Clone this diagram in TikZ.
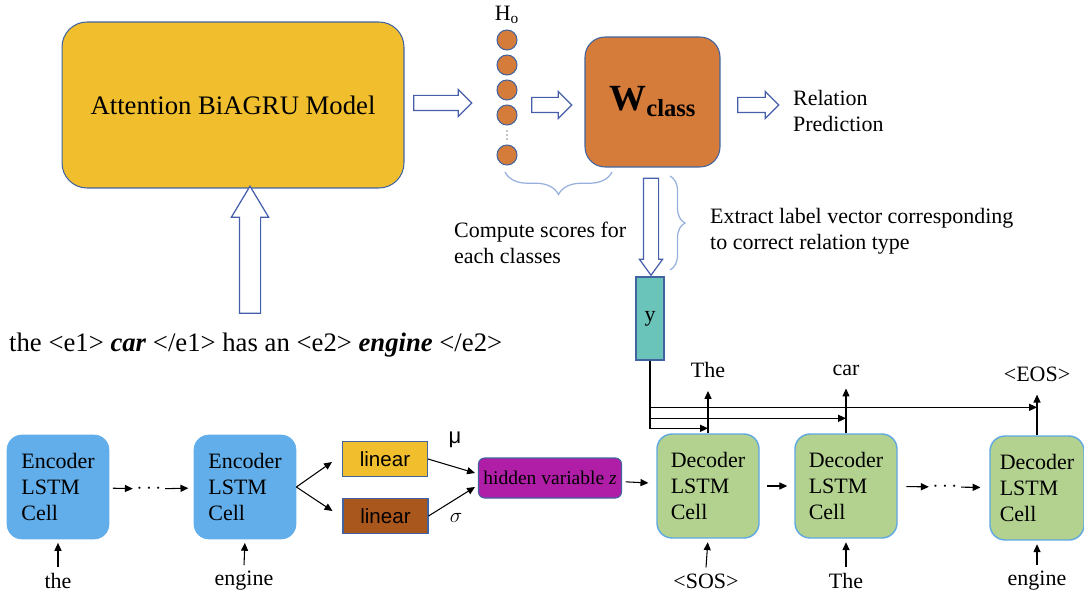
\documentclass[tikz,border=0pt]{standalone}
\usepackage{fontspec}
\setmainfont{Liberation Serif}
\newfontfamily\arialfont{Liberation Sans}
\usetikzlibrary{shapes.arrows, arrows.meta, positioning, calc, decorations.pathreplacing}

\definecolor{attyellow}{RGB}{241,191,46}
\definecolor{outlineblue}{RGB}{65,100,160}
\definecolor{arrline}{RGB}{70,95,170}
\definecolor{wcorange}{RGB}{214,124,59}
\definecolor{yteal}{RGB}{107,196,186}
\definecolor{encblue}{RGB}{98,174,234}
\definecolor{decgreen}{RGB}{179,209,143}
\definecolor{decline}{RGB}{95,168,225}
\definecolor{linbrown}{RGB}{170,87,30}
\definecolor{hidpurple}{RGB}{176,30,168}
\definecolor{bracecol}{RGB}{150,175,220}

\tikzset{
  midtext/.style={font=\fontsize{12.5}{14.8}\selectfont},
  bigtext/.style={font=\fontsize{15.2}{18}\selectfont},
  cellbox/.style={midtext, rounded corners=0.3cm, minimum width=2.04cm, minimum height=2.08cm, align=left},
  encbox/.style={cellbox, fill=encblue, draw=encblue},
  decbox/.style={cellbox, fill=decgreen, draw=decline, line width=0.8pt},
  linbox/.style={draw=outlineblue, line width=0.6pt, minimum width=1.7cm, minimum height=0.7cm, font=\arialfont\fontsize{11.7}{14}\selectfont},
  hcirc/.style={circle, fill=wcorange, draw=outlineblue, line width=0.6pt, minimum size=0.4cm, inner sep=0pt},
  hollowarr/.style={single arrow, draw=arrline, fill=white, line width=0.7pt, inner sep=0pt, minimum width=0pt},
  thinarr/.style={-{Triangle[length=4.5pt,width=4pt]}, line width=0.6pt},
  bracedraw/.style={draw=bracecol, line width=0.7pt, decorate}
}

\begin{document}
\begin{tikzpicture}[x=0.02cm, y=-0.02cm]
\useasboundingbox (0,0) rectangle (1084,601);

% upper part: classifier
\node[bigtext, rounded corners=0.5cm, fill=attyellow, draw=outlineblue, line width=0.6pt, minimum width=6.84cm, minimum height=3.32cm] (att) at (233,105) {Attention BiAGRU Model};

\foreach \yy/\nm in {40/h1, 65/h2, 90/h3, 115/h4, 155/h5}
  \node[hcirc] (\nm) at (507,\yy) {};
\foreach \yy in {131,135,139}
  \fill (507,\yy) circle (0.35pt);
\node[midtext] (hlab) at (507,15) {H\textsubscript{o}};

\node[rounded corners=0.4cm, fill=wcorange, draw=outlineblue, line width=0.6pt, minimum width=2.7cm, minimum height=2.6cm] (wcls) at (652.5,102)
  {\fontsize{21}{24}\selectfont\bfseries W\raisebox{-0.35ex}{\fontsize{14}{16}\selectfont class}};

\node[midtext, anchor=west, align=left] (relpred) at (787,111) {Relation\\Prediction};

\node[hollowarr, minimum height=1.16cm, inner ysep=0.14cm, single arrow head extend=0.12cm] (arr1) at (439,103) {};
\node[hollowarr, minimum height=0.8cm, inner ysep=0.14cm, single arrow head extend=0.12cm] (arr2) at (548,105) {};
\node[hollowarr, minimum height=0.82cm, inner ysep=0.14cm, single arrow head extend=0.12cm] (arr3) at (754.5,105) {};
\node[hollowarr, shape border rotate=270, minimum height=1.94cm, inner sep=0.14cm, single arrow head extend=0.08cm, single arrow tip angle=72] (arr4) at (651,221.5) {};
\node[hollowarr, shape border rotate=90, minimum height=2.54cm, inner sep=0.2cm, single arrow head extend=0.16cm, single arrow tip angle=62] (arr5) at (250,258.5) {};

\draw[bracedraw, decoration={brace, mirror, amplitude=0.45cm}] (505,172) -- (612,172);
\draw[bracedraw, decoration={brace, amplitude=0.3cm}] (670,176) -- (670,270);

\node[midtext, anchor=west, align=left] (scores) at (448,243) {Compute scores for\\each classes};
\node[midtext, anchor=west, align=left] (extract) at (704,231) {Extract label vector corresponding\\to correct relation type};

\node[midtext, fill=yteal, draw=outlineblue, line width=0.6pt, minimum width=0.56cm, minimum height=1.66cm, inner sep=0pt] (ybox) at (650,318.5) {y};

\node[bigtext, anchor=west] (sent) at (3,345) {the <e1> \textbf{\textit{car}} </e1> has an <e2> \textbf{\textit{engine}} </e2>};

% lower part: encoder / decoder
\node[encbox] (enc1) at (58,487) {Encoder\\LSTM\\Cell};
\node[encbox] (enc2) at (245,487) {Encoder\\LSTM\\Cell};
\node[midtext, inner sep=1pt] (edots) at (149,489) {$\cdots$};

\node[linbox, fill=attyellow] (lin1) at (385,459) {linear};
\node[linbox, fill=linbrown] (lin2) at (385.5,516) {linear};
\node[font=\arialfont\fontsize{12.5}{14}\selectfont] (mu) at (455,440) {μ};
\node[midtext] (sig) at (456,518) {$\sigma$};

\node[rounded corners=0.12cm, fill=hidpurple, draw=outlineblue, line width=0.6pt, minimum width=2.86cm, minimum height=0.8cm, inner sep=1pt, font=\fontsize{11.1}{13}\selectfont] (hid) at (550,478) {hidden variable \textit{z}};

\node[decbox] (dec1) at (708,486) {Decoder\\LSTM\\Cell};
\node[decbox] (dec2) at (846,486) {Decoder\\LSTM\\Cell};
\node[decbox, minimum width=1.88cm] (dec3) at (1037,488) {Decoder\\LSTM\\Cell};
\node[midtext, inner sep=1pt] (ddots) at (945,487) {$\cdots$};

\node[midtext] (in1) at (58,581) {the};
\node[midtext] (in2) at (244,581) {engine};
\node[midtext] (in3) at (706,581) {<SOS>};
\node[midtext] (in4) at (846,581) {The};
\node[midtext] (in5) at (1037,581) {engine};

\node[midtext] (out1) at (708,370) {The};
\node[midtext] (out2) at (846,370) {car};
\node[midtext] (out3) at (1037,374) {<EOS>};

\draw[thinarr, shorten <=2pt, shorten >=1pt] (enc1) -- (edots);
\draw[thinarr, shorten <=1pt, shorten >=3pt] (edots) -- (enc2);
\draw[thinarr] (enc2.east) -- ([xshift=-0.2cm, yshift=-0.06cm]lin1.west);
\draw[thinarr] (enc2.east) -- ([xshift=-0.2cm, yshift=0.1cm]lin2.west);
\draw[thinarr] (lin1.east) -- ([xshift=-0.06cm, yshift=0.1cm]hid.west);
\draw[thinarr] (lin2.east) -- ([xshift=-0.06cm, yshift=-0.18cm]hid.west);
\draw[thinarr, shorten <=2pt, shorten >=4.5pt] (hid) -- (dec1);
\draw[thinarr, shorten <=4pt, shorten >=4pt] (dec1) -- (dec2);
\draw[thinarr, shorten <=5pt, shorten >=1pt] (dec2) -- (ddots);
\draw[thinarr, shorten <=1pt, shorten >=5pt] (ddots) -- (dec3);

\foreach \src/\dst in {in1/enc1, in2/enc2, in3/dec1, in4/dec2, in5/dec3}
  \draw[thinarr, shorten >=2pt] (\src.north) -- (\dst.south);
\foreach \src/\dst in {dec1/out1, dec2/out2, dec3/out3}
  \draw[thinarr, shorten >=4pt] (\src.north) -- (\dst.south);

\draw[thinarr] (ybox.south) |- ([yshift=0.1cm]dec1.north);
\draw[thinarr] (ybox.south) |- ([yshift=0.3cm]dec2.north);
\draw[thinarr] (ybox.south) |- ([yshift=0.56cm]dec3.north);
\end{tikzpicture}
\end{document}
